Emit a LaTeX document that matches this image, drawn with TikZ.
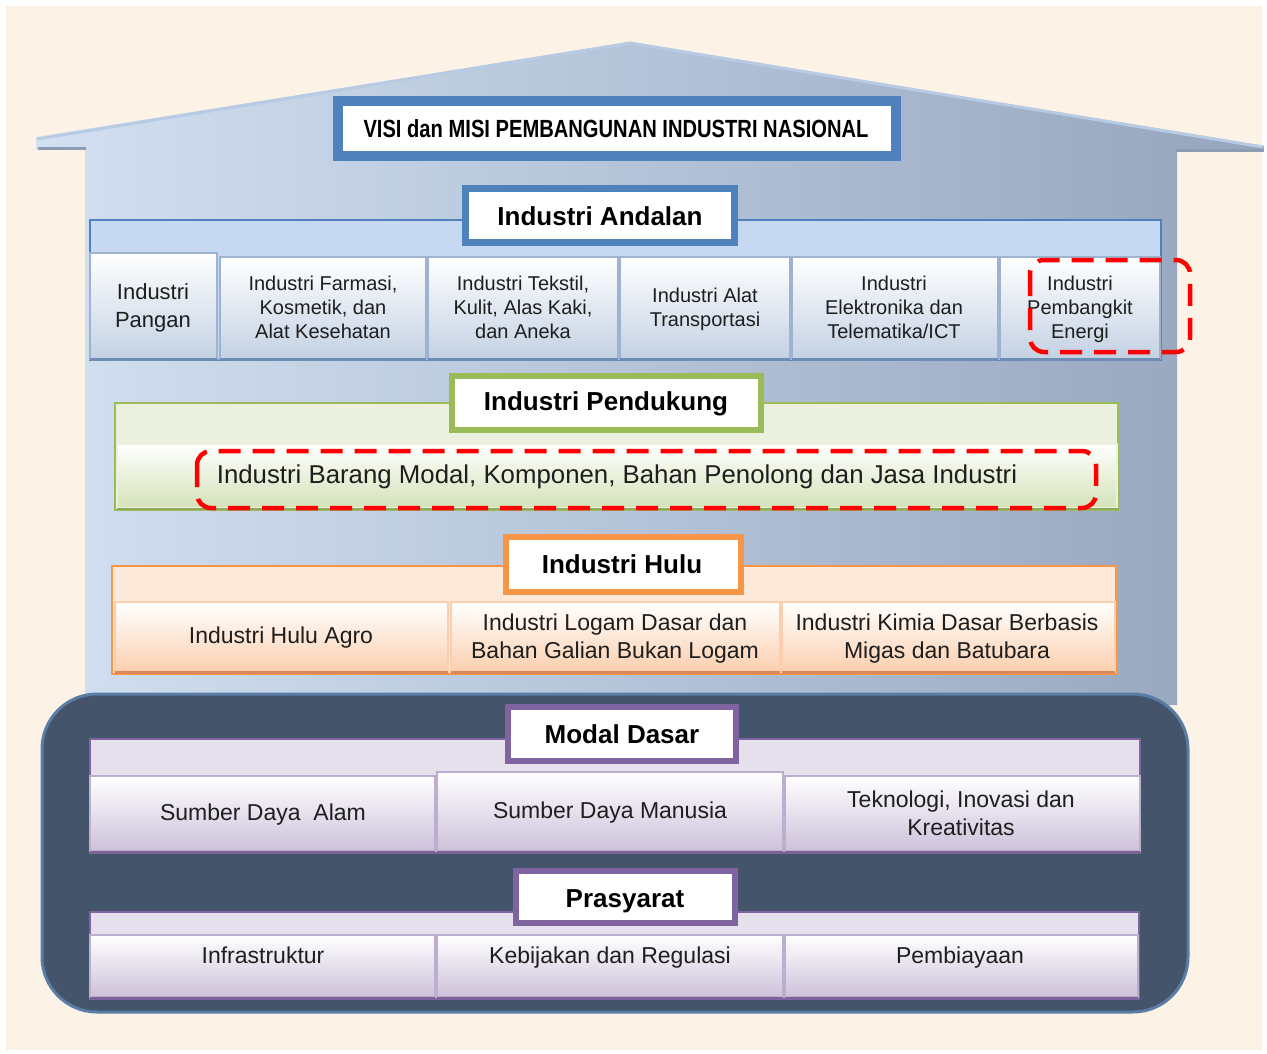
\documentclass[tikz,border=0pt]{standalone}
\usepackage{fontspec}
\usepackage{graphicx}
\setmainfont{Liberation Sans}
\definecolor{bgc}{HTML}{FDF2E6}
\definecolor{hl}{HTML}{D3E0F1}
\definecolor{hr}{HTML}{95A5BD}
\definecolor{roofc}{HTML}{B7CBE4}
\definecolor{eavec}{HTML}{8C9CB3}
\definecolor{blu}{HTML}{4F81BD}
\definecolor{andp}{HTML}{C6D9F1}
\definecolor{cellb}{HTML}{C3D1E3}
\definecolor{cellbd}{HTML}{9DB3CF}
\definecolor{cellbs}{HTML}{6F8CB3}
\definecolor{grn}{HTML}{9BBB59}
\definecolor{grnp}{HTML}{EBF1DE}
\definecolor{grnc}{HTML}{D4E2B8}
\definecolor{grns}{HTML}{8FA85C}
\definecolor{org}{HTML}{F79646}
\definecolor{orgp}{HTML}{FDE9D9}
\definecolor{orgc}{HTML}{FBCFAE}
\definecolor{orgs}{HTML}{D9895A}
\definecolor{pur}{HTML}{8064A2}
\definecolor{purp}{HTML}{E5E0EC}
\definecolor{purc}{HTML}{CCC1DA}
\definecolor{purs}{HTML}{7A6496}
\definecolor{fnd}{HTML}{44546A}
\definecolor{fndb}{HTML}{5A7DA6}
\definecolor{txtc}{HTML}{1E1E1E}
\tikzset{
  txt/.style={text=txtc, align=center, inner sep=0pt, font=\fontsize{23}{28}\selectfont},
  txtA/.style={txt, font=\fontsize{20}{24}\selectfont},
  hdr/.style={text=black, inner sep=0pt, font=\fontsize{26}{30}\selectfont\bfseries},
  cellB/.style={top color=white, bottom color=cellb, draw=cellbd, line width=1.5pt},
  cellG/.style={top color=white, bottom color=grnc, draw=grnp, line width=1.5pt},
  cellO/.style={top color=white, bottom color=orgc, draw=orgc, line width=1.5pt},
  cellP/.style={top color=white, bottom color=purc, draw=purc!80!pur, line width=1.5pt},
  reddash/.style={draw=red, line width=4.5pt, dash pattern=on 22pt off 12pt, rounded corners=14pt},
}
\begin{document}
\begin{tikzpicture}[x=1pt,y=-1pt]
\useasboundingbox (0,0) rectangle (1267,1054);
\fill[white] (0,0) rectangle (1267,1054);
\fill[bgc] (6,6) rectangle (1262,1050);
% house
\shade[left color=hl, right color=hr] (36,137) -- (630,42) -- (1264,146) -- (1264,152) -- (1177,152) -- (1177,705) -- (85,705) -- (85,150) -- (36,150) -- cycle;
\draw[roofc, line width=3pt] (37,139) -- (630,43) -- (1263,147);
\draw[eavec, line width=3pt] (38,148.5) -- (86,148.5);
\draw[eavec, line width=3pt] (1176,150.5) -- (1263,150.5);
% VISI
\fill[blu] (333,96) rectangle (901,161);
\filldraw[fill=white, draw=blu, line width=1.5pt] (342,105) rectangle (892,152);
\node[text=black, inner sep=0pt] (visi) at (616,129) {\resizebox{505pt}{18pt}{\bfseries VISI dan MISI PEMBANGUNAN INDUSTRI NASIONAL}};
% Andalan
\filldraw[fill=andp, draw=blu, line width=2pt] (90,220) rectangle (1161,360);
\filldraw[fill=white, draw=blu, line width=7pt] (465.5,188.5) rectangle (734.5,242.5);
\node[hdr] (andalan) at (600,216) {Industri Andalan};
\foreach \a/\b/\t in {90/217/253, 220/426/257, 428/618/257, 620/790/257, 792/998/257, 1000/1160/257}{
  \path[cellB] (\a,\t) rectangle (\b,359);
  \draw[cellbs, line width=2.5pt] (\a,359.5) -- (\b,359.5);
}
\node[txt, font=\fontsize{22}{28}\selectfont] (a1) at (153,308) {Industri\\Pangan};
\node[txtA] (a2) at (323,307) {Industri Farmasi,\\Kosmetik, dan\\Alat Kesehatan};
\node[txtA] (a3) at (523,307) {Industri Tekstil,\\Kulit, Alas Kaki,\\dan Aneka};
\node[txtA] (a4) at (705,309) {Industri Alat\\Transportasi};
\node[txtA] (a5) at (894,307) {Industri\\Elektronika dan\\Telematika/ICT};
\node[txtA] (a6) at (1080,309) {Industri\\Pembangkit\\Energi};
\draw[reddash] (1030,260) rectangle (1190,352);
% Pendukung
\filldraw[fill=grnp, draw=grn, line width=2pt] (115,403) rectangle (1118,510);
\path[cellG] (117,444) rectangle (1117,508);
\draw[grns, line width=2.5pt] (117,509) -- (1118,509);
\filldraw[fill=white, draw=grn, line width=6pt] (452,376) rectangle (761,430);
\node[hdr] (pendukung) at (606,403.5) {Industri Pendukung};
\node[txt, font=\fontsize{25.8}{30}\selectfont] (b1) at (617,476.5) {Industri Barang Modal, Komponen, Bahan Penolong dan Jasa Industri};
\draw[reddash] (197,451) rectangle (1096,508);
% Hulu
\filldraw[fill=orgp, draw=org, line width=2pt] (112,566) rectangle (1116,674);
\foreach \a/\b in {115/448, 451/780, 782/1115}{
  \path[cellO] (\a,602) rectangle (\b,672);
  \draw[orgs, line width=2.5pt] (\a,672.5) -- (\b,672.5);
}
\filldraw[fill=white, draw=org, line width=6pt] (506,537) rectangle (741,592);
\node[hdr] (hulu) at (622,564) {Industri Hulu};
\node[txt] (c1) at (281,638) {Industri Hulu Agro};
\node[txt] (c2) at (615,639) {Industri Logam Dasar dan\\Bahan Galian Bukan Logam};
\node[txt] (c3) at (947,639) {Industri Kimia Dasar Berbasis\\Migas dan Batubara};
% Foundation
\filldraw[fill=fnd, draw=fndb, line width=3pt, rounded corners=55pt] (42,694) rectangle (1188,1012);
% Modal Dasar
\filldraw[fill=purp, draw=pur, line width=2pt] (90,739) rectangle (1140,853);
\foreach \a/\b/\t in {90/435/776, 437/783/772, 785/1140/776}{
  \path[cellP] (\a,\t) rectangle (\b,851);
  \draw[purs, line width=2.5pt] (\a,852) -- (\b,852);
}
\filldraw[fill=white, draw=pur, line width=6pt] (508,707) rectangle (736,761);
\node[hdr] (modal) at (622,734) {Modal Dasar};
\node[txt] (d1) at (263,815) {Sumber Daya\ \ Alam};
\node[txt] (d2) at (610,813) {Sumber Daya Manusia};
\node[txt] (d3) at (961,813) {Teknologi, Inovasi dan\\Kreativitas};
% Prasyarat
\filldraw[fill=purp, draw=pur, line width=2pt] (90,912) rectangle (1139,999);
\foreach \a/\b in {90/435, 437/783, 785/1138}{
  \path[cellP] (\a,935) rectangle (\b,997);
  \draw[purs, line width=2.5pt] (\a,998) -- (\b,998);
}
\filldraw[fill=white, draw=pur, line width=6pt] (516,871) rectangle (735,923);
\node[hdr] (prasyarat) at (625,901) {Prasyarat};
\node[txt] (e1) at (263,955) {Infrastruktur};
\node[txt] (e2) at (610,958) {Kebijakan dan Regulasi};
\node[txt] (e3) at (960,958) {Pembiayaan};
\end{tikzpicture}
\end{document}
